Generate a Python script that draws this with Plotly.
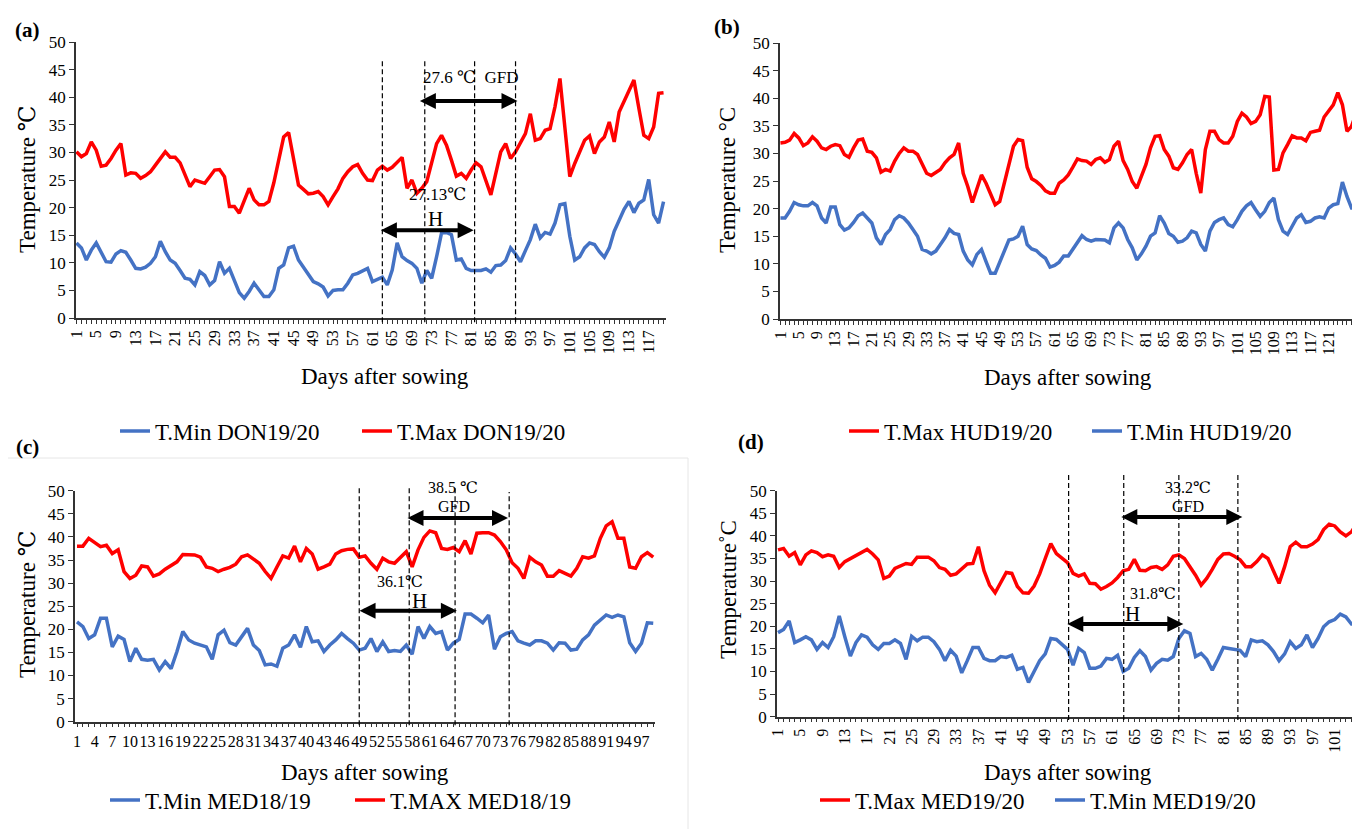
import plotly.graph_objects as go

# page is 1360x837; the browser adds an 8px body margin, so the figure itself is 16px smaller
PAGE_W, PAGE_H, PAD = 1360, 837, 8
W, H = PAGE_W - 2 * PAD, PAGE_H - 2 * PAD
FONT = "Times New Roman, Liberation Serif, DejaVu Serif, serif"
RED = "#FF0000"
BLUE = "#4472C4"

# ---------------- data ----------------
days_a = list(range(1, 121))
tmax_don = [30.1, 29.2, 29.8, 31.9, 30.4, 27.5, 27.7, 28.9, 30.4, 31.6,
            25.9, 26.3, 26.2, 25.3, 25.8, 26.5, 27.7, 28.9, 30.1, 29.1,
            29.1, 28.1, 25.9, 23.8, 25.0, 24.7, 24.4, 25.6, 26.8, 26.9,
            25.6, 20.2, 20.2, 19.0, 21.1, 23.5, 21.4, 20.5, 20.5, 21.1,
            24.5, 28.5, 32.8, 33.6, 28.6, 24.1, 23.3, 22.5, 22.6, 22.9,
            22.0, 20.5, 22.0, 23.4, 25.3, 26.5, 27.4, 27.8, 26.2, 25.0,
            24.9, 26.8, 27.5, 26.8, 27.3, 28.1, 29.1, 23.5, 25.0, 22.6,
            23.5, 24.7, 28.3, 31.6, 33.1, 31.3, 28.6, 25.7, 26.2, 25.3,
            26.8, 28.1, 27.4, 25.0, 22.3, 26.2, 30.1, 31.6, 28.9, 30.1,
            31.6, 33.4, 37.0, 32.2, 32.5, 34.0, 34.3, 38.3, 43.4, 35.2,
            25.6, 28.0, 30.1, 32.2, 33.0, 29.8, 31.9, 32.8, 35.5, 31.9,
            37.3, 39.2, 41.0, 43.1, 38.0, 33.1, 32.5, 34.6, 40.7, 40.8]
tmin_don = [13.6, 12.7, 10.5, 12.3, 13.6, 12.0, 10.2, 10.1, 11.6, 12.2,
            11.9, 10.5, 9.0, 8.9, 9.2, 9.9, 11.1, 13.9, 12.0, 10.5,
            9.9, 8.6, 7.2, 7.0, 6.0, 8.4, 7.7, 6.0, 6.8, 10.2,
            8.1, 9.0, 6.9, 4.6, 3.6, 4.8, 6.3, 5.0, 3.9, 3.9,
            5.1, 9.0, 9.6, 12.7, 13.0, 10.5, 9.2, 7.8, 6.6, 6.2,
            5.6, 4.0, 5.0, 5.1, 5.1, 6.3, 7.8, 8.1, 8.6, 9.0,
            6.6, 7.0, 7.4, 6.0, 8.7, 13.6, 11.1, 10.4, 9.9, 9.0,
            6.3, 8.6, 7.2, 11.1, 15.4, 15.5, 15.1, 10.5, 10.7, 9.0,
            8.6, 8.6, 8.6, 8.9, 8.3, 9.5, 9.6, 10.4, 12.7, 11.6,
            10.2, 12.2, 14.2, 17.0, 14.5, 15.5, 15.2, 17.2, 20.5, 20.7,
            14.8, 10.5, 11.1, 12.7, 13.6, 13.3, 12.0, 11.0, 12.7, 15.7,
            17.8, 19.7, 21.1, 19.1, 20.8, 21.4, 25.1, 18.7, 17.2, 21.1]

days_b = list(range(1, 129))
tmax_hud = [31.9, 32.0, 32.4, 33.6, 32.8, 31.4, 31.9, 33.0, 32.2, 31.0,
            30.7, 31.3, 31.6, 31.4, 29.8, 29.3, 31.0, 32.4, 32.6, 30.4,
            30.2, 29.2, 26.6, 27.1, 26.8, 28.6, 30.0, 31.0, 30.4, 30.4,
            29.8, 28.0, 26.4, 26.0, 26.6, 27.1, 28.3, 29.2, 29.8, 31.9,
            26.4, 24.0, 21.1, 23.4, 26.1, 24.6, 22.5, 20.7, 21.3, 24.6,
            28.0, 31.3, 32.5, 32.3, 27.5, 25.4, 24.9, 24.2, 23.2, 22.8,
            22.8, 24.6, 25.2, 26.1, 27.5, 29.0, 28.7, 28.6, 28.0, 28.9,
            29.2, 28.4, 28.9, 31.3, 32.2, 28.7, 27.1, 24.9, 23.7, 25.8,
            28.0, 31.0, 33.1, 33.2, 30.7, 29.5, 27.4, 27.1, 28.3, 29.8,
            30.7, 26.4, 22.8, 30.7, 34.0, 34.0, 32.5, 31.9, 31.9, 33.1,
            35.8, 37.3, 36.6, 35.4, 35.8, 37.0, 40.3, 40.2, 27.0, 27.1,
            30.1, 31.6, 33.2, 32.8, 32.8, 32.3, 33.8, 34.0, 34.2, 36.6,
            37.6, 38.8, 41.0, 38.8, 34.0, 34.9, 37.3, 39.0]
tmin_hud = [18.3, 18.3, 19.5, 21.1, 20.7, 20.5, 20.5, 21.1, 20.5, 18.3,
            17.4, 20.3, 20.3, 17.1, 16.1, 16.5, 17.5, 18.7, 19.2, 18.3,
            17.4, 14.7, 13.5, 15.3, 16.2, 18.0, 18.7, 18.3, 17.4, 16.2,
            15.0, 12.6, 12.3, 11.8, 12.3, 13.5, 14.7, 16.2, 15.5, 15.3,
            12.3, 10.7, 9.8, 11.7, 12.6, 10.4, 8.3, 8.3, 10.4, 12.3,
            14.3, 14.5, 15.0, 16.8, 13.5, 12.7, 12.4, 11.6, 11.0, 9.4,
            9.7, 10.3, 11.4, 11.4, 12.6, 13.8, 15.1, 14.4, 14.1, 14.4,
            14.3, 14.3, 13.8, 16.5, 17.4, 16.5, 14.4, 12.9, 10.7, 11.8,
            13.2, 15.0, 15.6, 18.7, 17.4, 15.5, 15.0, 13.9, 14.1, 14.7,
            15.9, 15.6, 13.5, 12.3, 15.9, 17.5, 18.0, 18.3, 17.1, 16.7,
            18.0, 19.5, 20.5, 21.1, 19.8, 18.6, 19.5, 21.1, 21.9, 18.0,
            15.9, 15.3, 16.8, 18.3, 18.9, 17.5, 17.7, 18.3, 18.5, 18.3,
            20.1, 20.7, 20.9, 24.8, 22.2, 20.1, 20.1, 21.0]

days_c = list(range(1, 100))
tmax_med1819 = [38.0, 38.0, 39.7, 38.7, 37.9, 38.2, 36.4, 37.2, 32.5, 31.0,
                31.7, 33.7, 33.5, 31.5, 32.0, 33.0, 33.7, 34.6, 36.2, 36.2,
                36.1, 35.6, 33.5, 33.2, 32.5, 33.0, 33.4, 34.1, 35.7, 36.1,
                35.1, 34.3, 32.5, 31.0, 33.5, 35.9, 35.4, 38.0, 34.6, 37.5,
                36.3, 33.0, 33.5, 34.1, 36.3, 37.0, 37.3, 37.4, 35.6, 35.9,
                34.3, 33.0, 35.4, 34.6, 34.3, 35.6, 36.8, 33.5, 37.2, 39.9,
                41.3, 40.9, 37.5, 37.3, 37.7, 36.8, 39.2, 36.3, 40.8, 40.9,
                40.9, 40.4, 39.0, 37.2, 34.4, 33.2, 31.0, 35.6, 34.6, 33.9,
                31.5, 31.5, 32.7, 32.1, 31.5, 33.2, 35.7, 35.4, 35.9, 39.7,
                42.4, 43.3, 39.7, 39.7, 33.5, 33.2, 35.7, 36.6, 35.6]
tmin_med1819 = [21.6, 20.6, 18.0, 18.8, 22.4, 22.4, 16.2, 18.5, 17.8, 13.0,
                15.9, 13.5, 13.3, 13.5, 11.2, 13.0, 11.5, 15.2, 19.5, 17.7,
                17.0, 16.6, 16.2, 13.5, 18.8, 19.8, 17.1, 16.6, 18.4, 20.2,
                16.6, 15.4, 12.3, 12.5, 12.0, 15.9, 16.6, 18.8, 16.1, 20.6,
                17.3, 17.5, 15.2, 16.6, 17.7, 19.1, 18.0, 17.0, 15.5, 15.9,
                18.0, 15.2, 17.3, 15.2, 15.4, 15.2, 16.6, 14.6, 20.6, 18.0,
                20.6, 19.1, 19.5, 15.5, 17.0, 17.8, 23.3, 23.3, 22.4, 21.4,
                23.1, 15.7, 18.4, 19.1, 19.5, 17.5, 17.0, 16.6, 17.5, 17.5,
                17.0, 15.5, 17.1, 17.0, 15.5, 15.7, 17.7, 18.8, 20.9, 22.0,
                23.1, 22.6, 23.1, 22.7, 17.1, 15.2, 17.0, 21.4, 21.3]

days_d = list(range(1, 107))
tmax_med1920 = [36.9, 37.2, 35.5, 36.3, 33.6, 35.8, 36.7, 36.3, 35.4, 35.8,
                35.5, 33.0, 34.3, 35.0, 35.8, 36.3, 37.0, 36.0, 34.7, 30.6,
                31.1, 32.8, 33.3, 33.9, 33.7, 35.3, 35.3, 35.3, 34.5, 33.0,
                32.6, 31.3, 31.6, 32.6, 33.8, 33.9, 37.6, 32.3, 29.1, 27.4,
                29.5, 31.9, 31.7, 28.8, 27.4, 27.3, 28.9, 31.6, 35.0, 38.3,
                36.1, 35.0, 34.1, 31.7, 31.1, 31.6, 29.5, 29.4, 28.2, 28.8,
                29.6, 30.8, 32.3, 32.6, 34.8, 32.4, 32.3, 33.0, 33.2, 32.6,
                33.6, 35.5, 35.8, 35.0, 33.3, 31.3, 29.1, 30.6, 32.6, 34.8,
                36.0, 36.1, 35.5, 34.7, 33.2, 33.2, 34.3, 35.8, 35.0, 32.3,
                29.5, 33.2, 37.6, 38.6, 37.6, 37.6, 38.2, 39.2, 41.4, 42.6,
                42.2, 40.9, 40.0, 40.9, 42.8, 44.2]
tmin_med1920 = [18.6, 19.3, 21.2, 16.4, 17.0, 17.7, 17.0, 14.9, 16.4, 15.3,
                17.7, 22.3, 17.7, 13.4, 16.4, 18.1, 17.6, 15.9, 14.9, 16.2,
                16.2, 17.0, 16.2, 12.7, 17.8, 16.8, 17.6, 17.6, 16.6, 14.9,
                12.4, 14.7, 13.4, 9.7, 12.4, 15.3, 15.3, 12.9, 12.4, 12.4,
                13.3, 13.1, 13.6, 10.5, 10.9, 7.6, 10.0, 12.4, 13.9, 17.3,
                17.1, 15.9, 14.9, 11.4, 15.1, 14.2, 10.7, 10.7, 11.2, 12.9,
                12.7, 13.6, 10.0, 10.7, 13.1, 14.6, 13.3, 10.3, 11.8, 12.7,
                12.5, 13.3, 17.3, 19.0, 18.4, 13.3, 14.0, 12.7, 10.3, 12.7,
                15.3, 15.1, 14.9, 14.7, 13.3, 17.0, 16.6, 16.8, 15.9, 14.4,
                12.4, 13.9, 16.6, 15.1, 15.9, 18.1, 15.3, 17.3, 19.9, 21.0,
                21.5, 22.7, 22.1, 20.5, 20.6, 21.8]

# stage markers (days)
dash_a = [63.0, 71.6, 81.7, 90.0]
dash_c = [49.0, 57.5, 65.3, 74.5]
dash_d = [53.2, 63.1, 73.0, 83.6]

# ---------------- helpers (screen px -> paper fraction) ----------------
def PX(px):
    return (px - PAD) / W

def PY(py):
    return 1 - (py - PAD) / H

def xd(px0, px1):
    return [max(0.0, PX(px0)), min(1.0, PX(px1))]

def yd(py_bottom, py_top):
    return [PY(py_bottom), PY(py_top)]

def ticks(days, step):
    text = [str(d) if (d - 1) % step == 0 else "" for d in days]
    return days, text

fig = go.Figure()

panels = [
    ("", days_a, [("T.Min DON19/20", tmin_don, BLUE, "legend"),
                  ("T.Max DON19/20", tmax_don, RED, "legend2")]),
    ("2", days_b, [("T.Max HUD19/20", tmax_hud, RED, "legend3"),
                   ("T.Min HUD19/20", tmin_hud, BLUE, "legend4")]),
    ("3", days_c, [("T.Min MED18/19", tmin_med1819, BLUE, "legend5"),
                   ("T.MAX MED18/19", tmax_med1819, RED, "legend6")]),
    ("4", days_d, [("T.Max MED19/20", tmax_med1920, RED, "legend7"),
                   ("T.Min MED19/20", tmin_med1920, BLUE, "legend8")]),
]

for key, days, series in panels:
    for name, vals, col, lg in series:
        fig.add_trace(go.Scatter(x=days, y=vals, mode="lines", name=name,
                                 line=dict(color=col, width=3.5),
                                 xaxis="x" + key, yaxis="y" + key,
                                 legend=lg, showlegend=True, hoverinfo="skip"))

tick_font = dict(family=FONT, size=16, color="black")
axis_common = dict(showgrid=False, zeroline=False, showline=True, automargin=False,
                   linecolor="#333333", linewidth=1.5, ticks="outside",
                   tickcolor="#333333", tickfont=tick_font)

tv_a, tt_a = ticks(days_a, 4)
tv_b, tt_b = ticks(days_b, 4)
tv_c, tt_c = ticks(days_c, 3)
tv_d, tt_d = ticks(days_d, 4)

yax = dict(axis_common, range=[0, 50], tickvals=list(range(0, 51, 5)),
           ticklen=5, tickfont=dict(family=FONT, size=17, color="black"))

layout = dict(
    template="none",
    width=W, height=H, margin=dict(l=0, r=0, t=0, b=0, autoexpand=False),
    paper_bgcolor="white", plot_bgcolor="white", showlegend=True,
    font=dict(family=FONT, color="black"),
    xaxis=dict(axis_common, domain=xd(76, 666), range=[0.9, 120.5],
               tickvals=tv_a, ticktext=tt_a, tickangle=-90, ticklen=4, anchor="y"),
    yaxis=dict(yax, domain=yd(318, 42), anchor="x"),
    xaxis2=dict(axis_common, domain=xd(780, 1352), range=[0.9, 126.1],
                tickvals=tv_b, ticktext=tt_b, tickangle=-90, ticklen=4, anchor="y2"),
    yaxis2=dict(yax, domain=yd(319, 43), anchor="x2"),
    xaxis3=dict(axis_common, domain=xd(75, 655), range=[0.66, 99.3],
                tickvals=tv_c, ticktext=tt_c, tickangle=0, ticklen=4, anchor="y3"),
    yaxis3=dict(yax, domain=yd(721.7, 490.7), anchor="x3"),
    xaxis4=dict(axis_common, domain=xd(777, 1352), range=[0.82, 104.1],
                tickvals=tv_d, ticktext=tt_d, tickangle=-90, ticklen=4, anchor="y4"),
    yaxis4=dict(yax, domain=yd(716.7, 490.7), anchor="x4"),
)

# legends: one per entry, placed like the original (text start px, centre y px)
leg_font = dict(family=FONT, size=23, color="black")
leg_pos = {"legend": (155, 431), "legend2": (397, 431),
           "legend3": (884, 431), "legend4": (1127, 431),
           "legend5": (145, 800), "legend6": (390, 800),
           "legend7": (855, 800), "legend8": (1090, 800)}
for lg, (px, py) in leg_pos.items():
    layout[lg] = dict(x=PX(px - 40), y=PY(py), xanchor="left", yanchor="middle",
                      orientation="h", bgcolor="rgba(0,0,0,0)", font=leg_font,
                      borderwidth=0, itemclick=False, itemdoubleclick=False)

fig.update_layout(**layout)

# dashed stage lines
shapes = []
for key, dl, top in [("", dash_a, 47.0 / 50), ("3", dash_c, 51.2 / 50), ("4", dash_d, 54.0 / 50)]:
    for i, d in enumerate(dl):
        t = top
        if key == "3" and i == 3:
            t = 49.7 / 50
        shapes.append(dict(type="line", xref="x" + key, yref=("y" + key) + " domain",
                           x0=d, x1=d, y0=-0.015, y1=t,
                           line=dict(color="black", width=1.2, dash="5px,3px")))
# faint frame edges around panel (c) (top and right only, as visible in the original)
shapes.append(dict(type="line", xref="paper", yref="paper",
                   x0=0, x1=PX(688), y0=PY(458), y1=PY(458),
                   line=dict(color="#e6e6e6", width=1)))
shapes.append(dict(type="line", xref="paper", yref="paper",
                   x0=PX(688), x1=PX(688), y0=0, y1=PY(458),
                   line=dict(color="#e6e6e6", width=1)))
fig.update_layout(shapes=shapes)

ann = []
def arrow(key, x0, x1, yv):
    ann.append(dict(xref="x" + key, yref="y" + key, axref="x" + key, ayref="y" + key,
                    x=x1, y=yv, ax=x0, ay=yv, text="", showarrow=True,
                    arrowhead=2, startarrowhead=2, arrowside="end+start",
                    arrowsize=0.8, arrowwidth=4, arrowcolor="black",
                    standoff=0, startstandoff=0))

def label(key, x, yv, text, size):
    # y given on the panel's 0-50 scale, placed via the domain so labels above the plot still show
    ann.append(dict(xref="x" + key, yref="y" + key + " domain", x=x, y=yv / 50.0,
                    xanchor="center", yanchor="middle",
                    text=text, showarrow=False,
                    font=dict(family=FONT, size=size, color="black")))

# panel (a)
arrow("", 62.4, 81.5, 15.9)
arrow("", 70.3, 90.4, 39.3)
label("", 80.9, 43.5, "27.6 ℃  GFD", 17)
label("", 74.2, 22.4, "27.13℃", 17)
label("", 73.8, 17.9, "H", 21)
# panel (c)
arrow("3", 48.8, 65.6, 24.0)
arrow("3", 56.95, 74.3, 44.1)
label("3", 64.9, 50.8, "38.5 ℃", 16)
label("3", 65.1, 46.5, "GFD", 16)
label("3", 55.9, 30.4, "36.1℃", 16)
label("3", 59.3, 26.1, "H", 21)
# panel (d)
arrow("4", 52.7, 73.8, 20.5)
arrow("4", 62.4, 84.4, 44.2)
label("4", 74.6, 50.8, "33.2℃", 16)
label("4", 74.6, 46.6, "GFD", 16)
label("4", 68.3, 27.2, "31.8℃", 16)
label("4", 64.7, 22.8, "H", 21)

def ptext(px, py, text, size, angle=0, bold=False):
    ann.append(dict(xref="paper", yref="paper", x=PX(px), y=PY(py), text=text,
                    showarrow=False, textangle=angle, xanchor="center", yanchor="middle",
                    font=dict(family=FONT, size=size, color="black",
                              weight="bold" if bold else "normal")))

# panel tags
ptext(27, 30, "(a)", 21, bold=True)
ptext(727, 27, "(b)", 21, bold=True)
ptext(27, 447, "(c)", 21, bold=True)
ptext(751, 442, "(d)", 21, bold=True)
# axis titles
ptext(27, 180, "Temperature ℃", 23, angle=-90)
ptext(727, 180, "Temperature °C", 23, angle=-90)
ptext(27, 605, "Temperature ℃", 23, angle=-90)
ptext(728, 590, "Temperature˚C", 23, angle=-90)
ptext(385, 376, "Days after sowing", 23)
ptext(1068, 377, "Days after sowing", 23)
ptext(365, 772, "Days after sowing", 23)
ptext(1068, 772, "Days after sowing", 23)

fig.update_layout(annotations=ann)

fig.write_html("out.html")
